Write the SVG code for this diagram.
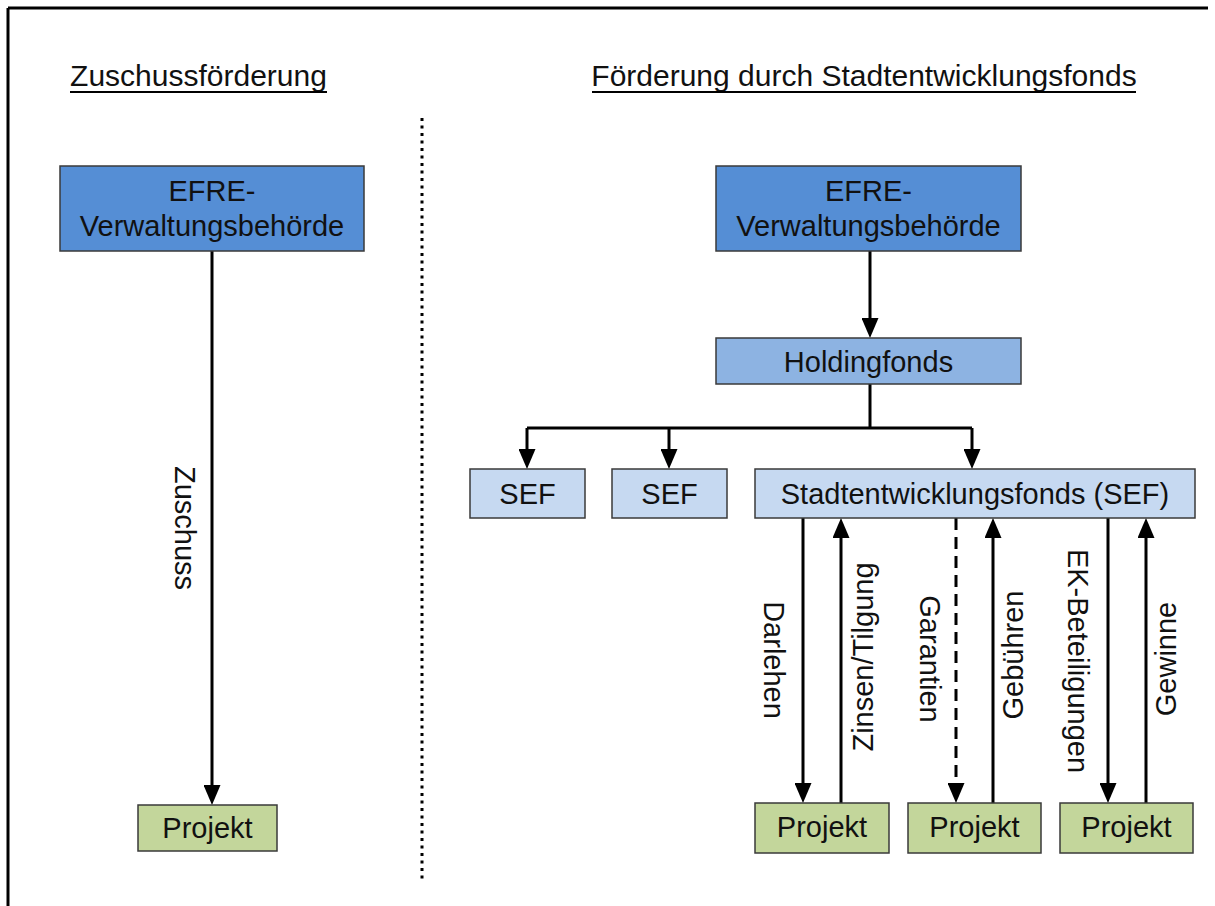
<svg xmlns="http://www.w3.org/2000/svg" width="1215" height="906" viewBox="0 0 1215 906">
  <style>
    text { font-family: "Liberation Sans", Arial, sans-serif; fill: #111; }
    .title { font-size: 30px; text-anchor: middle; }
    .lbl { font-size: 29px; text-anchor: middle; }
    .rot { font-size: 29px; text-anchor: middle; }
    .box { stroke: #3a3a3a; stroke-width: 1.5; }
    .efre { fill: #558ed5; }
    .hold { fill: #8db3e2; }
    .sef { fill: #c6d9f1; }
    .proj { fill: #c3d69b; }
    .conn { stroke: #000; stroke-width: 3; fill: none; }
    .arrow { marker-end: url(#ah); }
    .dash { stroke-dasharray: 12 7; }
  </style>
  <defs>
    <marker id="ah" viewBox="0 0 20 17" refX="3" refY="8.5" markerWidth="20" markerHeight="17" markerUnits="userSpaceOnUse" orient="auto">
      <path d="M0,0 L20,8.5 L0,17 Z" fill="#000"/>
    </marker>
  </defs>

  <rect x="0" y="0" width="1215" height="906" fill="#fff"/>

  <!-- frame (top and left edges) -->
  <g id="frame" stroke="#000" stroke-width="3" fill="none">
    <line x1="8" y1="8" x2="1208" y2="8"/>
    <line x1="8" y1="8" x2="8" y2="906"/>
  </g>

  <!-- section headings -->
  <g id="headings">
    <text class="title" x="198.5" y="86">Zuschussförderung</text>
    <line x1="70" y1="92" x2="327" y2="92" stroke="#000" stroke-width="2"/>
    <text class="title" x="864" y="86">Förderung durch Stadtentwicklungsfonds</text>
    <line x1="592" y1="92" x2="1136" y2="92" stroke="#000" stroke-width="2"/>
  </g>

  <!-- dotted separator -->
  <line id="separator" x1="422" y1="118" x2="422" y2="880" stroke="#000" stroke-width="3" stroke-dasharray="3 4.5"/>

  <!-- connectors -->
  <g id="connectors" class="conn">
    <!-- left: grant path -->
    <line class="arrow" x1="212" y1="251" x2="212" y2="788"/>
    <!-- right: authority to holding fund -->
    <line class="arrow" x1="870" y1="251" x2="870" y2="321"/>
    <!-- holding fund distribution tree -->
    <polyline points="870,384 870,428"/>
    <polyline points="527,428 972,428"/>
    <line class="arrow" x1="527" y1="428" x2="527" y2="452"/>
    <line class="arrow" x1="669" y1="428" x2="669" y2="452"/>
    <line class="arrow" x1="972" y1="428" x2="972" y2="452"/>
    <!-- SEF to projects and back -->
    <line class="arrow" x1="803" y1="518" x2="803" y2="786"/>
    <line class="arrow" x1="841" y1="803" x2="841" y2="535"/>
    <line class="arrow dash" x1="956" y1="518" x2="956" y2="786"/>
    <line class="arrow" x1="993" y1="803" x2="993" y2="535"/>
    <line class="arrow" x1="1108" y1="518" x2="1108" y2="786"/>
    <line class="arrow" x1="1146" y1="803" x2="1146" y2="535"/>
  </g>

  <!-- connector labels -->
  <g id="connector-labels">
    <text class="rot" x="185" y="528" dy="0.35em" transform="rotate(90 185 528)">Zuschuss</text>
    <text class="rot" x="774" y="660" dy="0.35em" transform="rotate(90 774 660)">Darlehen</text>
    <text class="rot" x="863" y="657" dy="0.35em" transform="rotate(-90 863 657)">Zinsen/Tilgung</text>
    <text class="rot" x="930" y="659" dy="0.35em" transform="rotate(90 930 659)">Garantien</text>
    <text class="rot" x="1013" y="655" dy="0.35em" transform="rotate(-90 1013 655)">Gebühren</text>
    <text class="rot" x="1078" y="661" dy="0.35em" transform="rotate(90 1078 661)">EK-Beteiligungen</text>
    <text class="rot" x="1166" y="659" dy="0.35em" transform="rotate(-90 1166 659)">Gewinne</text>
  </g>

  <!-- nodes: left side -->
  <g id="efre-left">
    <rect class="box efre" x="60" y="166" width="304" height="85"/>
    <text class="lbl" x="212" y="201">EFRE-</text>
    <text class="lbl" x="212" y="236">Verwaltungsbehörde</text>
  </g>
  <g id="projekt-left">
    <rect class="box proj" x="138" y="805" width="139" height="46"/>
    <text class="lbl" x="207.5" y="838">Projekt</text>
  </g>

  <!-- nodes: right side -->
  <g id="efre-right">
    <rect class="box efre" x="716" y="166" width="305" height="85"/>
    <text class="lbl" x="868.5" y="201">EFRE-</text>
    <text class="lbl" x="868.5" y="236">Verwaltungsbehörde</text>
  </g>
  <g id="holdingfonds">
    <rect class="box hold" x="716" y="338" width="305" height="46"/>
    <text class="lbl" x="868.5" y="372">Holdingfonds</text>
  </g>
  <g id="sef-1">
    <rect class="box sef" x="470" y="469" width="115" height="49"/>
    <text class="lbl" x="527.5" y="504">SEF</text>
  </g>
  <g id="sef-2">
    <rect class="box sef" x="612" y="469" width="115" height="49"/>
    <text class="lbl" x="669.5" y="504">SEF</text>
  </g>
  <g id="sef-main">
    <rect class="box sef" x="755" y="469" width="440" height="49"/>
    <text class="lbl" x="975" y="504">Stadtentwicklungsfonds (SEF)</text>
  </g>
  <g id="projekt-1">
    <rect class="box proj" x="755" y="803" width="134" height="50"/>
    <text class="lbl" x="822" y="837">Projekt</text>
  </g>
  <g id="projekt-2">
    <rect class="box proj" x="908" y="803" width="133" height="50"/>
    <text class="lbl" x="974.5" y="837">Projekt</text>
  </g>
  <g id="projekt-3">
    <rect class="box proj" x="1060" y="803" width="133" height="50"/>
    <text class="lbl" x="1126.5" y="837">Projekt</text>
  </g>
</svg>
